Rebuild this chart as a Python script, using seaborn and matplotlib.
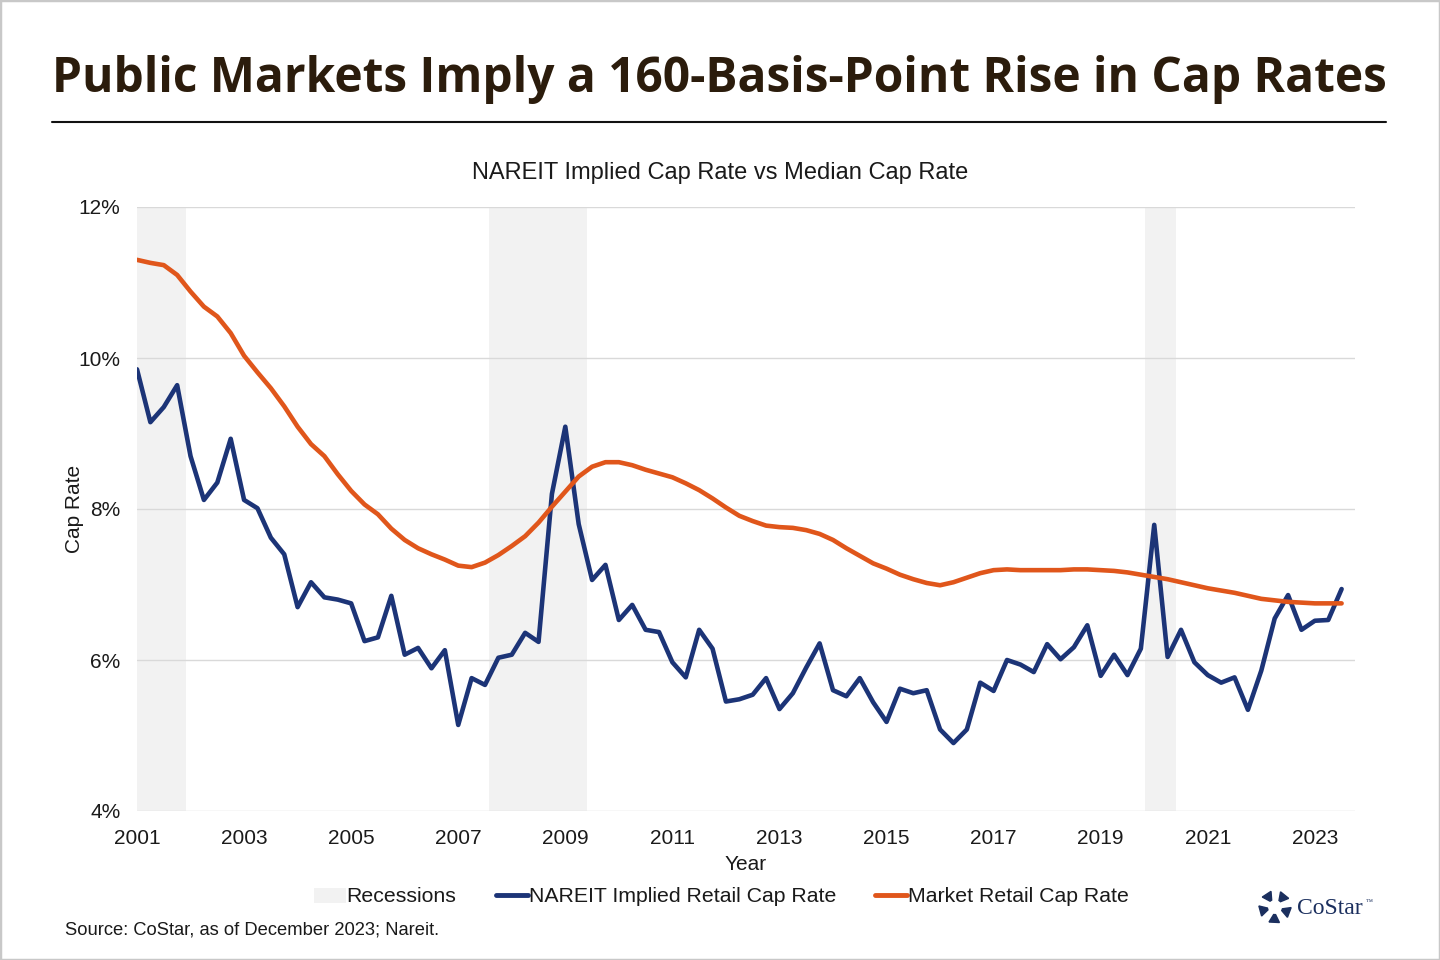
import numpy as np
import pandas as pd
import seaborn as sns
import matplotlib.pyplot as plt
from matplotlib.patches import Patch, Rectangle, Polygon
from matplotlib.lines import Line2D

# quarterly data, 2001 Q1 .. 2023 Q3
quarters = [2001 + 0.25 * i for i in range(91)]

nareit_implied = [
    9.85, 9.15, 9.35, 9.64, 8.70, 8.12, 8.35, 8.93,
    8.12, 8.01, 7.62, 7.40, 6.70, 7.03, 6.83, 6.80,
    6.75, 6.25, 6.30, 6.85, 6.07, 6.16, 5.89, 6.13,
    5.14, 5.76, 5.67, 6.03, 6.07, 6.36, 6.24, 8.20,
    9.09, 7.80, 7.06, 7.26, 6.53, 6.73, 6.40, 6.37,
    5.97, 5.77, 6.40, 6.15, 5.45, 5.48, 5.54, 5.76,
    5.35, 5.56, 5.90, 6.22, 5.60, 5.52, 5.76, 5.44,
    5.18, 5.62, 5.56, 5.60, 5.08, 4.90, 5.08, 5.70,
    5.59, 6.00, 5.94, 5.84, 6.21, 6.01, 6.17, 6.46,
    5.79, 6.07, 5.80, 6.15, 7.79, 6.04, 6.40, 5.97,
    5.80, 5.70, 5.77, 5.34, 5.86, 6.55, 6.86, 6.40,
    6.52, 6.53, 6.94,
]

market_cap = [
    11.30, 11.26, 11.23, 11.10, 10.88, 10.68, 10.55, 10.33,
    10.03, 9.81, 9.60, 9.36, 9.09, 8.86, 8.70, 8.46,
    8.24, 8.06, 7.93, 7.74, 7.59, 7.48, 7.40, 7.33,
    7.25, 7.23, 7.29, 7.39, 7.51, 7.64, 7.82, 8.03,
    8.23, 8.43, 8.56, 8.62, 8.62, 8.58, 8.52, 8.47,
    8.42, 8.34, 8.25, 8.14, 8.02, 7.91, 7.84, 7.78,
    7.76, 7.75, 7.72, 7.67, 7.59, 7.48, 7.38, 7.28,
    7.21, 7.13, 7.07, 7.02, 6.99, 7.03, 7.09, 7.15,
    7.19, 7.20, 7.19, 7.19, 7.19, 7.19, 7.20, 7.20,
    7.19, 7.18, 7.16, 7.13, 7.10, 7.07, 7.03, 6.99,
    6.95, 6.92, 6.89, 6.85, 6.81, 6.79, 6.77, 6.76,
    6.75, 6.75, 6.75,
]

recession_start = [2001.0, 2007.57, 2019.82]
recession_end = [2001.92, 2009.40, 2020.40]

year_ticks = list(range(2001, 2024, 2))
pct_ticks = [4, 6, 8, 10, 12]

BLUE = "#1c3477"
ORANGE = "#e0561b"
REC = "#f2f2f2"
TXT = "#1a1a1a"

df = pd.DataFrame({
    "Year": quarters * 2,
    "Rate": nareit_implied + market_cap,
    "Series": ["NAREIT Implied Retail Cap Rate"] * 91 + ["Market Retail Cap Rate"] * 91,
})

sns.set_theme(style="white")
plt.rcParams["font.family"] = ["Liberation Sans", "DejaVu Sans"]

fig = plt.figure(figsize=(14.4, 9.6), dpi=100)
ax = fig.add_axes([137 / 1440, 1 - 811 / 960, (1355 - 137) / 1440, (811 - 207) / 960])

for s, e in zip(recession_start, recession_end):
    ax.axvspan(s, e, color=REC, lw=0, zorder=0)

sns.lineplot(data=df, x="Year", y="Rate", hue="Series",
             palette={"NAREIT Implied Retail Cap Rate": BLUE, "Market Retail Cap Rate": ORANGE},
             lw=3.3, legend=False, ax=ax, zorder=3)

ax.set_xlim(2001, 2023.75)
ax.set_ylim(4, 12)
ax.set_xticks(year_ticks)
ax.set_xticklabels([str(y) for y in year_ticks], fontsize=15, color=TXT)
ax.set_yticks(pct_ticks)
ax.set_yticklabels([f"{p}%" for p in pct_ticks], fontsize=15, color=TXT)
ax.tick_params(axis="x", pad=13, length=0)
ax.tick_params(axis="y", pad=12, length=0)
ax.grid(axis="y", color="#d9d9d9", lw=1)
ax.set_axisbelow(True)
for sp in ax.spines.values():
    sp.set_visible(False)
ax.set_xlabel("Year", fontsize=15, color=TXT, labelpad=5)
ax.set_ylabel("Cap Rate", fontsize=15, color=TXT, labelpad=-4)

fig.text(0.5, 1 - 173 / 960, "NAREIT Implied Cap Rate vs Median Cap Rate",
         ha="center", va="center", fontsize=17, color=TXT)

# headline and rule
fig.text(0.4995, 1 - 80 / 960, "Public Markets Imply a 160-Basis-Point Rise in Cap Rates",
         ha="center", va="center", fontsize=34.5, fontweight="bold", color="#2b1c0c",
         family=["Open Sans", "DejaVu Sans"])
fig.add_artist(Line2D([52 / 1440, 1386 / 1440], [1 - 122 / 960] * 2, color="#111111", lw=1.5))

# legend
handles = [
    Patch(facecolor=REC, edgecolor="none"),
    Line2D([], [], color=BLUE, lw=3.5),
    Line2D([], [], color=ORANGE, lw=3.5),
]
labels = ["Recessions", "NAREIT Implied Retail Cap Rate", "Market Retail Cap Rate"]
fig.legend(handles, labels, loc="center", bbox_to_anchor=(0.501, 1 - 897 / 960), ncol=3,
           frameon=False, fontsize=15.3, handlelength=1.5, handletextpad=0.05,
           columnspacing=1.85, labelcolor=TXT)

fig.text(65 / 1440, 1 - 930 / 960, "Source: CoStar, as of December 2023; Nareit.",
         ha="left", va="center", fontsize=13.2, color=TXT)

# CoStar logo
lax = fig.add_axes([1258 / 1440, 1 - 924 / 960, 34 / 1440, 34 / 960])
lax.set_xlim(-1, 1)
lax.set_ylim(-1, 1)
lax.axis("off")
for k in range(5):
    a = np.pi / 2 + k * 2 * np.pi / 5
    b = a + 2 * np.pi / 5
    pts = [(0.95 * np.cos(a + 0.25), 0.95 * np.sin(a + 0.25)),
           (0.95 * np.cos(b - 0.35), 0.95 * np.sin(b - 0.35)),
           (0.45 * np.cos(b - 0.55), 0.45 * np.sin(b - 0.55)),
           (0.45 * np.cos(a + 0.45), 0.45 * np.sin(a + 0.45))]
    lax.add_patch(Polygon(pts, closed=True, color="#1b2f5e"))
fig.text(1297 / 1440, 1 - 908 / 960, "CoStar", ha="left", va="center", fontsize=17,
         color="#1b2f5e", family=["Liberation Serif", "DejaVu Serif"])
fig.text(1366 / 1440, 1 - 902 / 960, "\u2122", ha="left", va="center", fontsize=5,
         color="#1b2f5e", family=["Liberation Serif", "DejaVu Serif"])

fig.add_artist(Rectangle((0, 0), 1, 1, transform=fig.transFigure, fill=False,
                         edgecolor="#c8c8c8", lw=2.5))

fig.savefig("out.png", dpi=100)
